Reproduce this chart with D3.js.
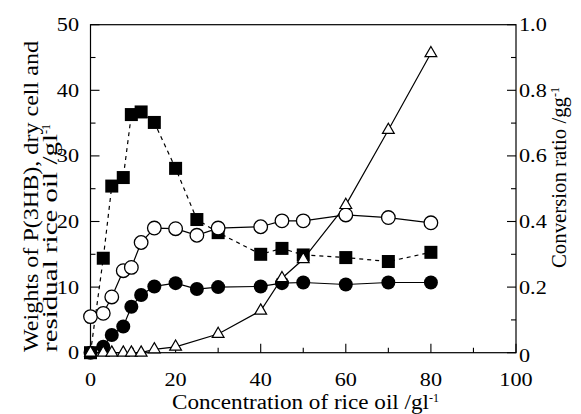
<!DOCTYPE html>
<html>
<head>
<meta charset="utf-8">
<script src="https://cdn.jsdelivr.net/npm/d3@7"></script>
<style>
  body { margin: 0; background: #fff; }
  svg { display: block; }
  svg text { font-family: "Liberation Serif"; }
</style>
</head>
<body>
<svg id="chart" width="581" height="414"></svg>
<script>
// Concentration of rice oil (g/l)
const conc = [0, 3, 5, 7.7, 9.6, 11.9, 15, 20, 25, 30, 40, 45, 50, 60, 70, 80];
// Filled squares (dashed line) - left axis
const squares = [0, 14.4, 25.4, 26.7, 36.3, 36.7, 35.1, 28.1, 20.3, 18.3, 15.0, 15.9, 14.9, 14.5, 13.9, 15.3];
// Open circles - left axis
const openCircles = [5.5, 6.0, 8.5, 12.5, 13.0, 16.8, 19.0, 18.9, 17.9, 19.0, 19.2, 20.1, 20.1, 21.0, 20.6, 19.8];
// Filled circles - left axis
const filledCircles = [0, 0.9, 2.7, 4.0, 7.0, 8.8, 10.1, 10.6, 9.7, 10.0, 10.1, 10.6, 10.7, 10.4, 10.7, 10.7];
// Open triangles - conversion ratio, right axis (no point at 25)
const triangles = [0, 0, 0, 0, 0, 0, 0.01, 0.018, null, 0.057, 0.128, 0.227, 0.285, 0.45, 0.679, 0.913];

const xTicks = [0, 20, 40, 60, 80, 100];
const yLeftTicks = [0, 10, 20, 30, 40, 50];
const yRightTicks = [0, 0.2, 0.4, 0.6, 0.8, 1.0];
const yRightLabels = ["0", "0.2", "0.4", "0.6", "0.8", "1.0"];

const svg = d3.select("#chart");
const x = d3.scaleLinear().domain([0, 100]).range([90.5, 516]);
const yL = d3.scaleLinear().domain([0, 50]).range([352.7, 24.7]);
const yR = d3.scaleLinear().domain([0, 1]).range([352.7, 24.7]);

const pLeft = x(0), pRight = x(100), pTop = yL(50), pBottom = yL(0);
const SX = 1.17; // horizontal stretch of glyphs seen in the reference

// Frame
svg.append("rect").attr("x", pLeft).attr("y", pTop)
  .attr("width", pRight - pLeft).attr("height", pBottom - pTop)
  .attr("fill", "none").attr("stroke", "#000").attr("stroke-width", 1.2);

// Bottom ticks (inward)
const xMinor = d3.range(0, 101, 10);
svg.append("g").selectAll("line").data(xMinor).join("line")
  .attr("x1", d => x(d)).attr("x2", d => x(d))
  .attr("y1", pBottom).attr("y2", d => pBottom - (d % 20 === 0 ? 9 : 5))
  .attr("stroke", "#000").attr("stroke-width", 1.1);
svg.append("g").selectAll("text").data(xTicks).join("text")
  .attr("transform", d => `translate(${x(d)},386) scale(${SX},1)`)
  .attr("text-anchor", "middle").attr("font-size", 19)
  .text(d => d);

// Left ticks
const yMinor = d3.range(0, 51, 5);
svg.append("g").selectAll("line").data(yMinor).join("line")
  .attr("x1", pLeft).attr("x2", d => pLeft + (d % 10 === 0 ? 9 : 5))
  .attr("y1", d => yL(d)).attr("y2", d => yL(d))
  .attr("stroke", "#000").attr("stroke-width", 1.1);
svg.append("g").selectAll("text").data(yLeftTicks).join("text")
  .attr("transform", d => `translate(79,${yL(d) + 6.5}) scale(${SX},1)`)
  .attr("text-anchor", "end").attr("font-size", 19)
  .text(d => d);

// Right ticks
const yRMinor = d3.range(0, 11).map(i => i / 10);
svg.append("g").selectAll("line").data(yRMinor).join("line")
  .attr("x1", pRight).attr("x2", (d, i) => pRight - (i % 2 === 0 ? 9 : 5))
  .attr("y1", d => yR(d)).attr("y2", d => yR(d))
  .attr("stroke", "#000").attr("stroke-width", 1.1);
svg.append("g").selectAll("text").data(yRightTicks).join("text")
  .attr("transform", d => `translate(${pRight + 3},${yR(d) + 6.5 + (d === 0 ? 3 : 0)}) scale(${SX},1)`)
  .attr("text-anchor", "start").attr("font-size", 19)
  .text((d, i) => yRightLabels[i]);

// Axis titles
function title(sel, main, mainLen) {
  sel.attr("font-size", 20).attr("fill", "#000");
  sel.append("tspan").attr("textLength", mainLen).attr("lengthAdjust", "spacingAndGlyphs").text(main);
  sel.append("tspan").attr("font-size", 12).attr("dy", -7).text("-1");
}
title(svg.append("text").attr("x", 172).attr("y", 409), "Concentration of rice oil /gl", 257);

svg.append("text")
  .attr("transform", "translate(37.5,352) rotate(-90)")
  .attr("font-size", 20)
  .append("tspan").attr("textLength", 311).attr("lengthAdjust", "spacingAndGlyphs")
  .text("Weights of P(3HB), dry cell and");
title(svg.append("text").attr("transform", "translate(57,352) rotate(-90)"),
  "residual rice oil /gl", 218);

title(svg.append("text").attr("transform", "translate(566,268) rotate(-90)"),
  "Conversion ratio /gg", 171);

// Data helpers
function pts(vals) { return conc.map((c, i) => ({ c, v: vals[i] })).filter(d => d.v !== null); }
const lineL = d3.line().x(d => x(d.c)).y(d => yL(d.v));
const lineR = d3.line().x(d => x(d.c)).y(d => yR(d.v));

const sq = pts(squares);
svg.append("path").attr("d", lineL(sq)).attr("fill", "none")
  .attr("stroke", "#000").attr("stroke-width", 1.2).attr("stroke-dasharray", "4,4");

const oc = pts(openCircles);
svg.append("path").attr("d", lineL(oc)).attr("fill", "none")
  .attr("stroke", "#000").attr("stroke-width", 1.2);

const fc = pts(filledCircles);
svg.append("path").attr("d", lineL(fc)).attr("fill", "none")
  .attr("stroke", "#000").attr("stroke-width", 1.2);

const tr = pts(triangles);
svg.append("path").attr("d", lineR(tr)).attr("fill", "none")
  .attr("stroke", "#000").attr("stroke-width", 1.2);

// Markers
svg.append("g").selectAll("rect").data(sq).join("rect")
  .attr("x", d => x(d.c) - 6.5).attr("y", d => yL(d.v) - 6.5)
  .attr("width", 13).attr("height", 13).attr("fill", "#000");

svg.append("g").selectAll("circle").data(oc).join("circle")
  .attr("cx", d => x(d.c)).attr("cy", d => yL(d.v)).attr("r", 6.8)
  .attr("fill", "#fff").attr("stroke", "#000").attr("stroke-width", 1.3);

svg.append("g").selectAll("circle").data(fc).join("circle")
  .attr("cx", d => x(d.c)).attr("cy", d => yL(d.v)).attr("r", 7)
  .attr("fill", "#000");

const tri = d3.symbol().type(d3.symbolTriangle).size(60);
svg.append("g").selectAll("path").data(tr).join("path")
  .attr("d", tri)
  .attr("transform", d => `translate(${x(d.c)},${yR(d.v)})`)
  .attr("fill", "#fff").attr("stroke", "#000").attr("stroke-width", 1.2);
</script>
</body>
</html>
